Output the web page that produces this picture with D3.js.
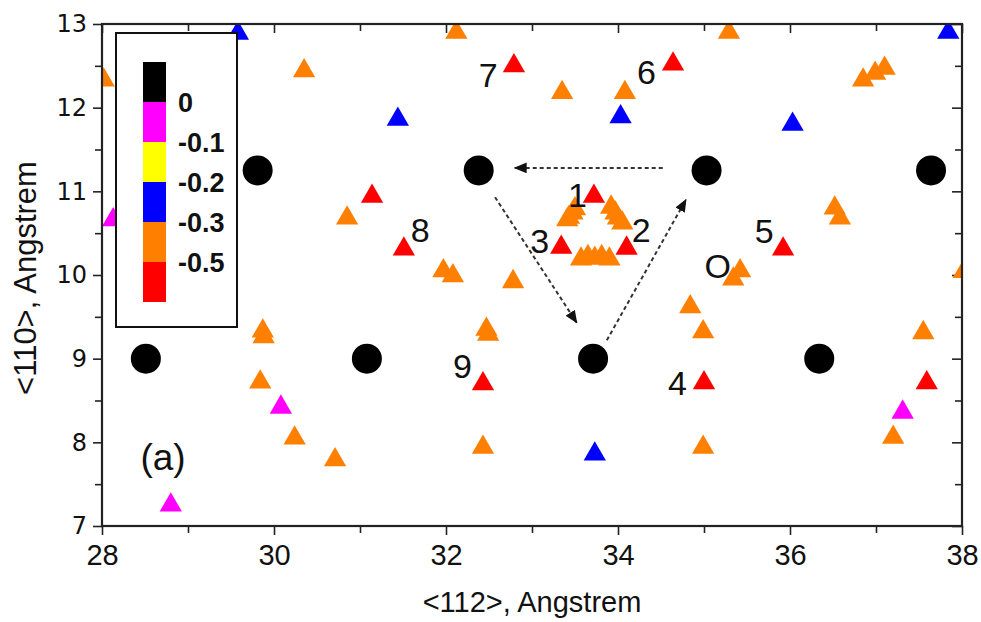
<!DOCTYPE html>
<html>
<head>
<meta charset="utf-8">
<script src="https://cdn.jsdelivr.net/npm/d3@7"></script>
<style>
body{margin:0;background:#fff;}
</style>
</head>
<body>
<div class="chart"></div>
<script>
// ---- data ----
// black atoms (energy 0)
var atoms = [[28.51,9.0],[29.81,11.25],[31.08,9.0],[32.38,11.25],[33.71,9.0],[35.03,11.25],[36.34,9.0],[37.64,11.25]];

// adsorption sites, one list per energy colour
var sitesOrange = [
  [28.02,12.33],[30.35,12.44],[32.12,12.90],[33.35,12.18],[34.08,12.18],[35.29,12.90],
  [36.85,12.33],[36.99,12.41],[37.10,12.47],[30.85,10.68],
  [33.41,10.66],[33.43,10.69],[33.47,10.74],[33.50,10.79],
  [33.92,10.81],[33.97,10.74],[34.00,10.68],[34.05,10.62],
  [33.57,10.19],[33.65,10.22],[33.73,10.20],[33.81,10.22],[33.90,10.19],
  [36.52,10.80],[36.58,10.68],[31.97,10.05],[32.08,9.99],[32.78,9.92],
  [35.34,9.95],[35.42,10.05],[38.02,10.04],[32.47,9.35],[32.49,9.29],
  [29.87,9.33],[29.88,9.26],[29.84,8.72],[30.24,8.05],[30.71,7.79],[32.43,7.94],
  [34.84,9.62],[34.99,9.32],[34.99,7.94],[37.55,9.31],[37.20,8.06]
];
var sitesMagenta = [[28.13,10.66],[30.08,8.42],[28.80,7.25],[37.31,8.36]];
var sitesBlue = [[29.58,12.89],[31.44,11.86],[34.03,11.89],[36.03,11.80],[37.84,12.90],[33.73,7.86]];
var sitesRed = [
  [32.79,12.50],[34.64,12.52],[31.14,10.94],[31.51,10.31],[33.72,10.94],
  [33.34,10.33],[34.10,10.32],[35.92,10.31],[32.43,8.70],[35.00,8.71],[37.59,8.71]
];

var legendColors = ["#000000","#ff00ff","#ffff00","#0000ff","#ff8000","#ff0000"];
var legendLabels = ["0","-0.1","-0.2","-0.3","-0.5"];

var xTicks = [28,30,32,34,36,38];
var xMinor = [29,31,33,35,37];
var yTicks = [7,8,9,10,11,12,13];
var yMinor = [7.5,8.5,9.5,10.5,11.5,12.5];

// site numbers [text, x, y]
var siteLabels = [
  ["7",32.49,12.25],["6",34.33,12.28],["1",33.53,10.81],["2",34.27,10.39],["3",33.09,10.26],
  ["8",31.70,10.39],["5",35.70,10.38],["O",35.16,9.96],["9",32.19,8.77],["4",34.69,8.57]
];

// dashed arrows [x1,y1,x2,y2]
var arrows = [
  [34.52,11.28,32.80,11.28],
  [32.57,10.93,33.52,9.43],
  [33.87,9.22,34.79,10.90]
];

// ---- layout ----
var W = 981, H = 622;
var pL = 102, pR = 962, pT = 24, pB = 526; // plot box

var x = d3.scaleLinear().domain([28,38]).range([pL,pR]);
var y = d3.scaleLinear().domain([7,13]).range([pB,pT]);

var svg = d3.select(".chart").append("svg")
  .attr("width",W)
  .attr("height",H)
  .style("font-family","'Liberation Sans', Arial, sans-serif");

var defs = svg.append("defs");
defs.append("clipPath")
  .attr("id","plotclip")
  .append("rect")
  .attr("x",pL).attr("y",pT)
  .attr("width",pR-pL).attr("height",pB-pT);

defs.append("marker")
  .attr("id","arrowhead")
  .attr("markerUnits","userSpaceOnUse")
  .attr("viewBox","0 0 12 10")
  .attr("refX",11).attr("refY",5)
  .attr("markerWidth",13).attr("markerHeight",11)
  .attr("orient","auto")
  .append("path")
  .attr("d","M0,0 L12,5 L0,10 Z")
  .attr("fill","#111");

// axes
function styleAxis(g){
  g.select(".domain").remove();
  g.selectAll(".tick line").attr("stroke","#222").attr("stroke-width",1.6);
}

// bottom, major + minor
svg.append("g")
  .attr("transform","translate(0,"+pB+")")
  .call(d3.axisBottom(x).tickValues(xTicks).tickSize(9).tickPadding(9).tickFormat(d3.format("d")))
  .call(styleAxis)
  .selectAll("text")
  .attr("fill","#111")
  .style("font-size","29px")
  .style("font-family","'Liberation Sans', Arial, sans-serif");

svg.append("g")
  .attr("transform","translate(0,"+pB+")")
  .call(d3.axisBottom(x).tickValues(xMinor).tickSize(7).tickFormat(""))
  .call(styleAxis);

// top, inward
svg.append("g")
  .attr("transform","translate(0,"+pT+")")
  .call(d3.axisTop(x).tickValues(xTicks).tickSize(-9).tickFormat(""))
  .call(styleAxis);
svg.append("g")
  .attr("transform","translate(0,"+pT+")")
  .call(d3.axisTop(x).tickValues(xMinor).tickSize(-7).tickFormat(""))
  .call(styleAxis);

// left, outward
svg.append("g")
  .attr("transform","translate("+pL+",0)")
  .call(d3.axisLeft(y).tickValues(yTicks).tickSize(9).tickPadding(6).tickFormat(d3.format("d")))
  .call(styleAxis)
  .selectAll("text")
  .attr("fill","#111")
  .style("font-size","24px")
  .style("font-family","'DejaVu Sans', sans-serif");
svg.append("g")
  .attr("transform","translate("+pL+",0)")
  .call(d3.axisLeft(y).tickValues(yMinor).tickSize(7).tickFormat(""))
  .call(styleAxis);

// right, inward
svg.append("g")
  .attr("transform","translate("+pR+",0)")
  .call(d3.axisRight(y).tickValues(yTicks).tickSize(-10).tickFormat(""))
  .call(styleAxis);
svg.append("g")
  .attr("transform","translate("+pR+",0)")
  .call(d3.axisRight(y).tickValues(yMinor).tickSize(-7).tickFormat(""))
  .call(styleAxis);

// axis titles
svg.append("text")
  .attr("x",532).attr("y",612)
  .attr("text-anchor","middle")
  .style("font-size","29px")
  .attr("fill","#111")
  .text("<112>, Angstrem");

svg.append("text")
  .attr("transform","translate(36,278) rotate(-90)")
  .attr("text-anchor","middle")
  .style("font-size","31px")
  .attr("fill","#111")
  .text("<110>, Angstrem");

// plot content
var plot = svg.append("g").attr("clip-path","url(#plotclip)");

var tri = d3.symbol().type(d3.symbolTriangle).size(215);

function drawSites(data,color){
  plot.append("g")
    .selectAll("path")
    .data(data)
    .enter().append("path")
    .attr("d",tri)
    .attr("transform",function(d){return "translate("+x(d[0])+","+y(d[1])+")";})
    .attr("fill",color);
}
drawSites(sitesOrange,"#ff8000");
drawSites(sitesMagenta,"#ff00ff");
drawSites(sitesBlue,"#0000ff");
drawSites(sitesRed,"#ff0000");

plot.append("g")
  .selectAll("circle")
  .data(atoms)
  .enter().append("circle")
  .attr("cx",function(d){return x(d[0]);})
  .attr("cy",function(d){return y(d[1]);})
  .attr("r",15)
  .attr("fill","#000");

// dashed arrows
plot.append("g")
  .selectAll("line")
  .data(arrows)
  .enter().append("line")
  .attr("x1",function(d){return x(d[0]);})
  .attr("y1",function(d){return y(d[1]);})
  .attr("x2",function(d){return x(d[2]);})
  .attr("y2",function(d){return y(d[3]);})
  .attr("stroke","#333")
  .attr("stroke-width",2)
  .attr("stroke-dasharray","4,3")
  .attr("marker-end","url(#arrowhead)");

// frame
svg.append("rect")
  .attr("x",pL).attr("y",pT)
  .attr("width",pR-pL).attr("height",pB-pT)
  .attr("fill","none")
  .attr("stroke","#222")
  .attr("stroke-width",2.2);

// site numbers
svg.append("g")
  .selectAll("text")
  .data(siteLabels)
  .enter().append("text")
  .attr("x",function(d){return x(d[1]);})
  .attr("y",function(d){return y(d[2]);})
  .attr("text-anchor","middle")
  .style("font-size","34px")
  .attr("fill","#111")
  .text(function(d){return d[0];});

svg.append("text")
  .attr("x",x(28.71)).attr("y",y(7.67))
  .attr("text-anchor","middle")
  .style("font-size","37px")
  .attr("fill","#111")
  .text("(a)");

// legend box
var lg = svg.append("g").attr("transform","translate(116,33)");
lg.append("rect")
  .attr("width",121).attr("height",294)
  .attr("fill","#fff")
  .attr("stroke","#111")
  .attr("stroke-width",2);

var rowH = 40;
lg.selectAll("rect.sw")
  .data(legendColors)
  .enter().append("rect")
  .attr("class","sw")
  .attr("x",27).attr("y",function(d,i){return 29+i*rowH;})
  .attr("width",23).attr("height",rowH)
  .attr("fill",function(d){return d;});

lg.selectAll("text")
  .data(legendLabels)
  .enter().append("text")
  .attr("x",62)
  .attr("y",function(d,i){return 29+(i+1)*rowH+10;})
  .style("font-size","27px")
  .style("font-weight","bold")
  .attr("fill","#111")
  .text(function(d){return d;});
</script>
</body>
</html>
